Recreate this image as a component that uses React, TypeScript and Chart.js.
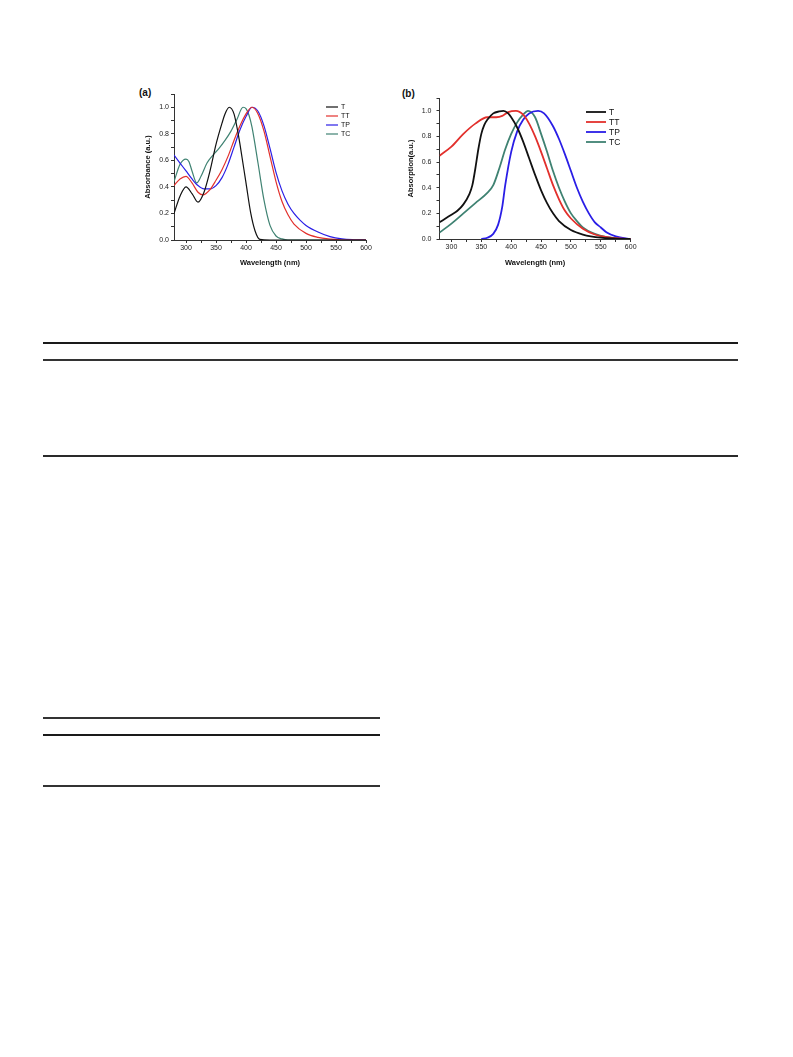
import React, { useEffect, useRef } from 'react';
import { Chart, registerables } from 'chart.js';

Chart.register(...registerables);

// ---------- Panel (a): Absorbance ----------
const aT_nm = [280, 290, 300, 310, 320, 330, 340, 350, 360, 365, 372, 380, 387, 390, 400, 408, 415, 423, 440, 600];
const aT_val = [0.20, 0.33, 0.40, 0.35, 0.285, 0.36, 0.52, 0.72, 0.88, 0.95, 1.0, 0.95, 0.80, 0.72, 0.43, 0.20, 0.07, 0.005, 0, 0];

const aTT_nm = [280, 290, 300, 310, 320, 328, 340, 350, 360, 370, 380, 390, 400, 410, 420, 430, 440, 450, 460, 470, 480, 500, 520, 540, 560, 600];
const aTT_val = [0.41, 0.46, 0.48, 0.43, 0.36, 0.34, 0.38, 0.45, 0.53, 0.63, 0.75, 0.86, 0.95, 1.0, 0.95, 0.82, 0.63, 0.44, 0.29, 0.19, 0.12, 0.05, 0.02, 0.007, 0, 0];

const aTP_nm = [280, 290, 300, 310, 320, 330, 340, 350, 360, 370, 380, 390, 400, 410, 420, 430, 440, 450, 460, 470, 480, 490, 500, 520, 540, 560, 580, 600];
const aTP_val = [0.64, 0.58, 0.52, 0.46, 0.41, 0.385, 0.385, 0.41, 0.47, 0.57, 0.70, 0.83, 0.93, 1.0, 0.97, 0.86, 0.69, 0.51, 0.37, 0.27, 0.20, 0.15, 0.11, 0.06, 0.025, 0.008, 0.002, 0];

const aTC_nm = [280, 290, 300, 305, 310, 318, 325, 335, 345, 355, 365, 375, 385, 395, 400, 405, 410, 420, 430, 440, 450, 460, 470, 600];
const aTC_val = [0.44, 0.57, 0.61, 0.59, 0.52, 0.43, 0.48, 0.58, 0.64, 0.69, 0.75, 0.82, 0.91, 1.0, 0.99, 0.94, 0.85, 0.58, 0.30, 0.11, 0.03, 0.008, 0, 0];

// ---------- Panel (b): Absorption ----------
const bT_nm = [280, 290, 300, 310, 320, 330, 335, 340, 345, 350, 355, 360, 370, 380, 387, 395, 400, 410, 420, 430, 440, 450, 460, 470, 480, 500, 520, 550, 575, 600];
const bT_val = [0.13, 0.16, 0.19, 0.22, 0.27, 0.35, 0.42, 0.55, 0.70, 0.82, 0.89, 0.93, 0.98, 0.995, 1.0, 0.98, 0.95, 0.87, 0.76, 0.63, 0.50, 0.38, 0.28, 0.20, 0.14, 0.07, 0.035, 0.01, 0.003, 0];

const bTT_nm = [280, 300, 320, 340, 360, 375, 385, 395, 408, 420, 430, 440, 450, 460, 470, 480, 490, 500, 520, 540, 560, 580, 600];
const bTT_val = [0.65, 0.72, 0.82, 0.90, 0.95, 0.95, 0.96, 0.99, 1.0, 0.97, 0.90, 0.80, 0.68, 0.55, 0.42, 0.31, 0.22, 0.16, 0.08, 0.035, 0.015, 0.005, 0];

const bTP_nm = [350, 360, 370, 378, 385, 390, 400, 410, 420, 430, 445, 455, 470, 480, 490, 500, 510, 520, 530, 540, 550, 560, 575, 600];
const bTP_val = [0.0, 0.01, 0.04, 0.11, 0.25, 0.42, 0.68, 0.84, 0.93, 0.98, 1.0, 0.98, 0.88, 0.78, 0.66, 0.53, 0.40, 0.29, 0.20, 0.13, 0.09, 0.05, 0.02, 0];

const bTC_nm = [280, 300, 320, 340, 360, 370, 380, 390, 400, 410, 420, 428, 440, 450, 460, 470, 480, 490, 500, 510, 520, 540, 560, 580, 600];
const bTC_val = [0.05, 0.12, 0.20, 0.28, 0.36, 0.42, 0.55, 0.70, 0.82, 0.91, 0.97, 1.0, 0.95, 0.82, 0.68, 0.53, 0.40, 0.29, 0.20, 0.14, 0.09, 0.04, 0.015, 0.005, 0];

const seriesNames = ['T', 'TT', 'TP', 'TC'];
const seriesColors = ['#111111', '#e2302c', '#2a1ee6', '#3f8272'];

const xTicksMin = 280;
const xTicksMax = 600;
const yTicksMax = 1.1;

const FONT = '"Liberation Sans", Arial, Helvetica, sans-serif';

const zip = (xs: number[], ys: number[]) => xs.map((x, i) => ({ x, y: ys[i] }));

const legendPlugin = {
  id: 'customLegend',
  afterDraw(chart: any, _args: any, opts: any) {
    const ctx = chart.ctx;
    ctx.save();
    chart.data.datasets.forEach((ds: any, i: number) => {
      const y = opts.y + i * opts.step;
      ctx.strokeStyle = ds.borderColor;
      ctx.lineWidth = ds.borderWidth;
      ctx.beginPath();
      ctx.moveTo(opts.x0, y);
      ctx.lineTo(opts.x1, y);
      ctx.stroke();
      ctx.fillStyle = '#111';
      ctx.font = opts.font;
      ctx.textBaseline = 'middle';
      ctx.textAlign = 'left';
      ctx.fillText(ds.label, opts.x1 + opts.gap, y + 0.5);
    });
    ctx.restore();
  },
};

type PanelCfg = {
  data: { nm: number[]; val: number[] }[];
  yTitle: string;
  lineWidth: number;
  yWidth: number;
  xHeight: number;
  padTop: number;
  padRight: number;
  yTitlePad: number;
  xTitlePad: number;
  yTickPad: number;
  legend: any;
};

function makeConfig(p: PanelCfg): any {
  return {
    type: 'line',
    data: {
      datasets: p.data.map((s, i) => ({
        label: seriesNames[i],
        data: zip(s.nm, s.val),
        borderColor: seriesColors[i],
        backgroundColor: seriesColors[i],
        borderWidth: p.lineWidth,
        pointRadius: 0,
        cubicInterpolationMode: 'monotone',
        fill: false,
      })),
    },
    options: {
      animation: false,
      responsive: false,
      maintainAspectRatio: false,
      layout: { padding: { top: p.padTop, right: p.padRight, left: 0, bottom: 0 } },
      plugins: {
        legend: { display: false },
        tooltip: { enabled: false },
        customLegend: p.legend,
      },
      scales: {
        x: {
          type: 'linear',
          min: xTicksMin,
          max: xTicksMax,
          afterFit: (s: any) => { s.height = p.xHeight; },
          border: { display: true, color: '#333', width: 1 },
          grid: { display: true, drawOnChartArea: false, drawTicks: true, tickLength: 3, color: '#333' },
          ticks: {
            stepSize: 25,
            includeBounds: false,
            autoSkip: false,
            maxRotation: 0,
            padding: 1,
            color: '#222',
            font: { family: FONT, size: 7 },
            callback: (v: number) => (Math.round(v) % 50 === 0 ? String(Math.round(v)) : ''),
          },
          title: {
            display: true,
            text: 'Wavelength (nm)',
            color: '#111',
            font: { family: FONT, size: 7.5, weight: 'bold' },
            padding: { top: 0, bottom: p.xTitlePad },
          },
        },
        y: {
          type: 'linear',
          min: 0,
          max: yTicksMax,
          afterFit: (s: any) => { s.width = p.yWidth; },
          border: { display: true, color: '#333', width: 1 },
          grid: { display: true, drawOnChartArea: false, drawTicks: true, tickLength: 3, color: '#333' },
          ticks: {
            stepSize: 0.1,
            autoSkip: false,
            padding: p.yTickPad,
            color: '#222',
            font: { family: FONT, size: 7 },
            callback: (v: number) => {
              const k = Math.round(v * 10);
              return k % 2 === 0 && k <= 10 ? (k / 10).toFixed(1) : '';
            },
          },
          title: {
            display: true,
            text: p.yTitle,
            color: '#111',
            font: { family: FONT, size: 7.5, weight: 'bold' },
            padding: { top: p.yTitlePad, bottom: 0 },
          },
        },
      },
    },
    plugins: [legendPlugin],
  };
}

function Panel({ cfg, left, top, width, height }: { cfg: PanelCfg; left: number; top: number; width: number; height: number }) {
  const ref = useRef<HTMLCanvasElement>(null);
  useEffect(() => {
    if (!ref.current) return;
    const chart = new Chart(ref.current, makeConfig(cfg));
    return () => chart.destroy();
  }, []);
  return (
    <canvas
      ref={ref}
      width={width}
      height={height}
      style={{ position: 'absolute', left, top, width, height }}
    />
  );
}

const panelA: PanelCfg = {
  data: [
    { nm: aT_nm, val: aT_val },
    { nm: aTT_nm, val: aTT_val },
    { nm: aTP_nm, val: aTP_val },
    { nm: aTC_nm, val: aTC_val },
  ],
  yTitle: 'Absorbance (a.u.)',
  lineWidth: 1.2,
  yWidth: 44,
  xHeight: 35,
  padTop: 14,
  padRight: 14,
  yTitlePad: 13,
  xTitlePad: 8,
  yTickPad: 2,
  legend: { x0: 196, x1: 208, gap: 3, y: 27, step: 9, font: `7px ${FONT}` },
};

const panelB: PanelCfg = {
  data: [
    { nm: bT_nm, val: bT_val },
    { nm: bTT_nm, val: bTT_val },
    { nm: bTP_nm, val: bTP_val },
    { nm: bTC_nm, val: bTC_val },
  ],
  yTitle: 'Absorption(a.u.)',
  lineWidth: 1.8,
  yWidth: 49.5,
  xHeight: 36,
  padTop: 18,
  padRight: 9.3,
  yTitlePad: 16,
  xTitlePad: 7.5,
  yTickPad: 5,
  legend: { x0: 196, x1: 216, gap: 3, y: 32, step: 10, font: `8.5px ${FONT}` },
};

const rule = (top: number, left: number, width: number, h = 2, color = '#2a2a2a') => (
  <div style={{ position: 'absolute', top, left, width, height: h, background: color }} />
);

export default function App() {
  return (
    <div>
      <div style={{ position: 'absolute', left: 0, top: 0, width: 793, height: 1057, background: '#fff' }} />
      <span style={{ position: 'absolute', left: 139, top: 87, font: `bold 10px ${FONT}`, color: '#111' }}>(a)</span>
      <span style={{ position: 'absolute', left: 402, top: 88, font: `bold 10px ${FONT}`, color: '#111' }}>(b)</span>
      <Panel cfg={panelA} left={130} top={80} width={250} height={195} />
      <Panel cfg={panelB} left={390} top={80} width={250} height={195} />
      {rule(342, 43, 695, 2, '#1a1a1a')}
      {rule(359, 43, 695, 2, '#333')}
      {rule(455, 43, 695, 2, '#2a2a2a')}
      {rule(717, 43, 337, 2, '#333')}
      {rule(734, 43, 337, 2, '#1a1a1a')}
      {rule(785, 43, 337, 2, '#333')}
    </div>
  );
}
